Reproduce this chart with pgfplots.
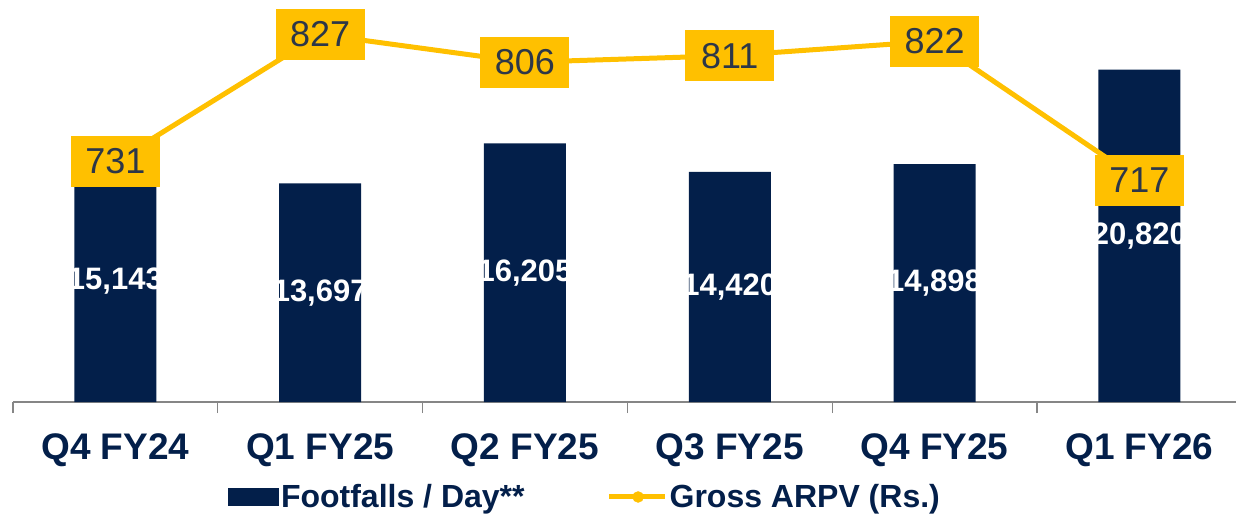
\documentclass[border=0pt]{standalone}
\usepackage{fontspec}
\setmainfont{Liberation Sans}
\usepackage{pgfplots}
\usepackage{pgfplotstable}
\pgfplotsset{compat=1.18}
\definecolor{navy}{RGB}{3,31,74}
\definecolor{gold}{RGB}{255,192,0}
\definecolor{lblgray}{RGB}{45,55,72}
\definecolor{axgray}{RGB}{134,134,134}
\pgfplotstableread{
x ff arpv
0 15143 731
1 13697 827
2 16205 806
3 14420 811
4 14898 822
5 20820 717
}\data
\begin{document}
\begin{tikzpicture}
\begin{axis}[
  scale only axis, width=1223pt, height=399pt,
  xmin=-0.5, xmax=5.472, ymin=0, ymax=25000,
  axis x line*=bottom, axis y line=none,
  x axis line style={draw=axgray, line width=1.2pt},
  xtick={0,...,5},
  xticklabels={Q4 FY24, Q1 FY25, Q2 FY25, Q3 FY25, Q4 FY25, Q1 FY26},
  major tick length=0pt,
  minor xtick={-0.5,0.5,1.5,2.5,3.5,4.5},
  minor tick length=11pt,
  tick align=outside,
  minor tick style={draw=axgray, line width=1.2pt},
  xticklabel style={font=\fontsize{37}{44}\selectfont\bfseries, text=navy, anchor=base, yshift=-57pt},
  clip=false,
  /pgf/number format/.cd, fixed, precision=0, 1000 sep={,}, assume math mode=true,
  /pgfplots/.cd,
  legend columns=2,
  legend style={at={(0.1758,-0.238)}, anchor=west, draw=none, fill=none, inner sep=0pt, outer sep=0pt,
    font=\fontsize{32}{38}\selectfont\bfseries, text=navy,
    /tikz/every even column/.append style={column sep=80pt}},
]
\addplot[ybar, bar width=82pt, fill=navy, draw=none,
  legend image code/.code={\fill[navy] (0pt,-9pt) rectangle (51pt,9pt);}]
  table[x=x, y=ff] {\data};
\addlegendentry{Footfalls / Day**}
\addlegendimage{legend image code/.code={\draw[gold, line width=5pt] (0pt,0pt) -- (56pt,0pt); \fill[gold] (29pt,0pt) circle (5.5pt);}}
\addlegendentry{Gross ARPV (Rs.)}
\addplot[draw=none, mark=none, forget plot, nodes near coords, point meta=explicit,
  nodes near coords style={anchor=center, text=white, font=\fontsize{31}{36}\selectfont\bfseries}]
  table[x=x, y expr=\thisrow{ff}/2, meta=ff] {\data};
\coordinate (sw) at (rel axis cs:0,0);
\end{axis}
\begin{axis}[
  scale only axis, width=1223pt, height=399pt,
  xmin=-0.5, xmax=5.472, ymin=549.2, ymax=850.8,
  hide axis, clip=false,
  /pgf/number format/.cd, fixed, precision=0, assume math mode=true,
]
\addplot[gold, line width=5pt, mark=none, nodes near coords,
  nodes near coords style={anchor=center, fill=gold, minimum width=89pt, minimum height=51pt, inner sep=0pt,
    text=lblgray, font=\fontsize{36}{40}\selectfont}]
  table[x=x, y=arpv] {\data};
\end{axis}
\pgfresetboundingbox
\path[use as bounding box] (sw) ++(-13pt,-113pt) rectangle ++(1236pt,515pt);
\end{tikzpicture}
\end{document}
